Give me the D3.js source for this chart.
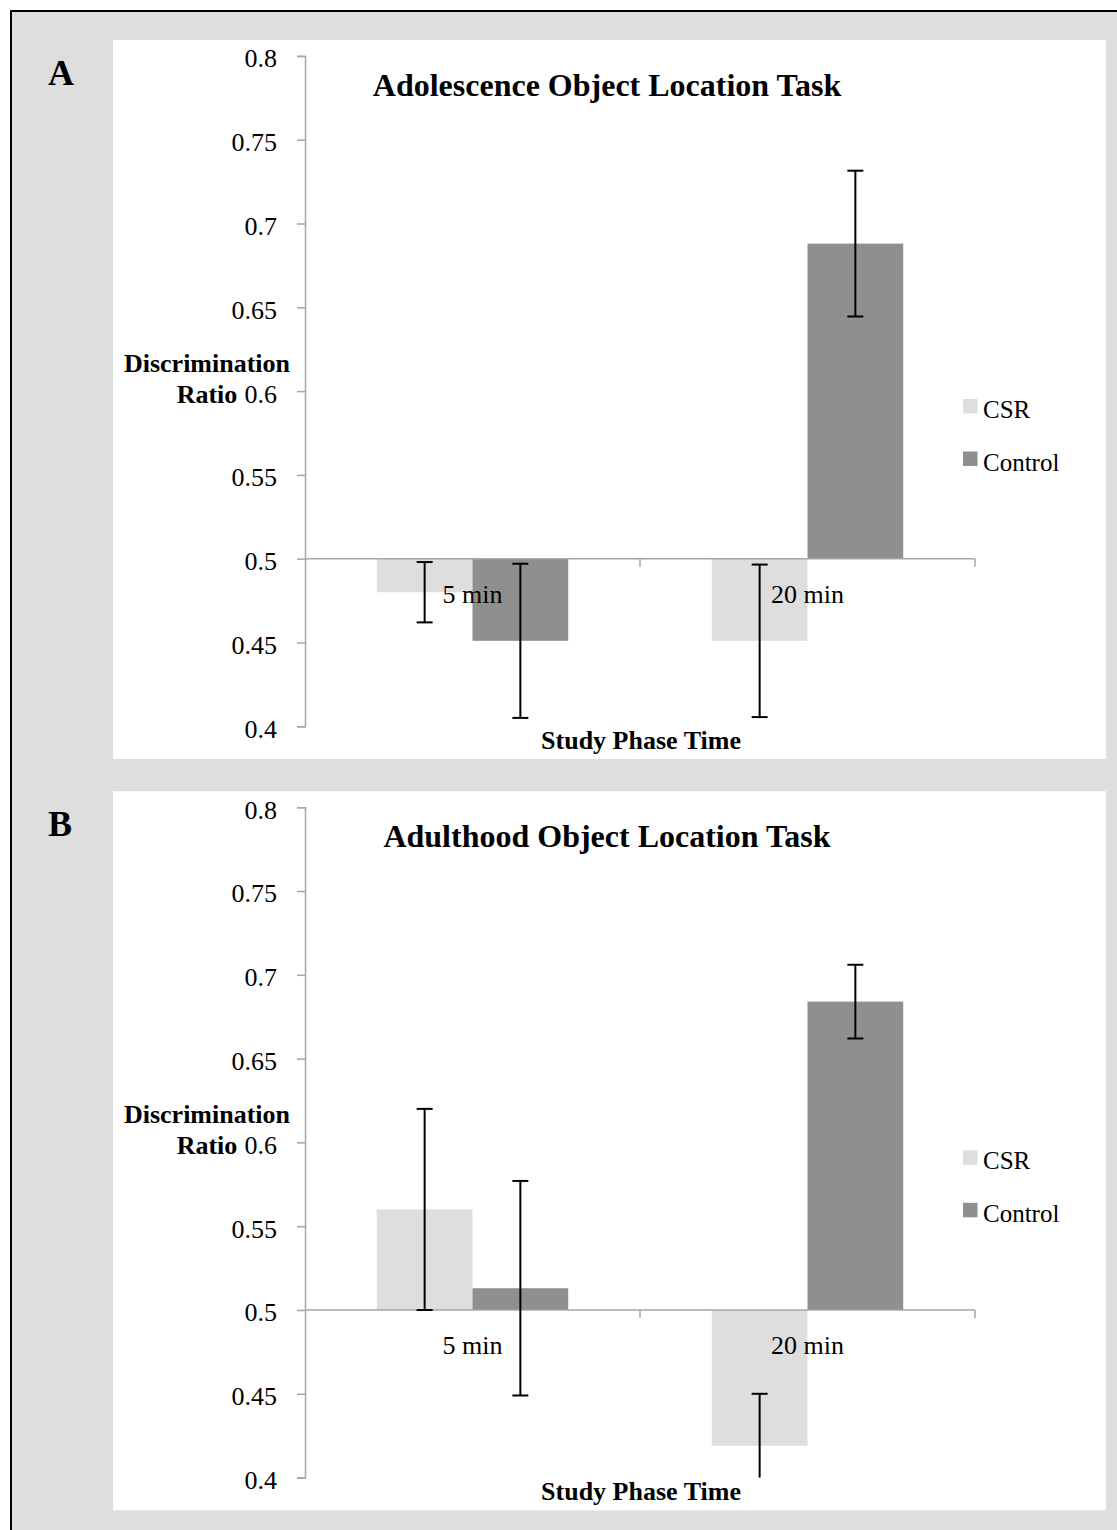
<!DOCTYPE html>
<html>
<head>
<meta charset="utf-8">
<script src="https://cdn.jsdelivr.net/npm/d3@7"></script>
<style>
  html, body { margin: 0; padding: 0; background: #ffffff; }
  svg { display: block; }
  text { font-family: "Liberation Serif", "Times New Roman", serif; fill: #000; }
</style>
</head>
<body>
<svg id="chart" width="1117" height="1530"></svg>
<script>
// ---- data ----
const categories = ["5 min", "20 min"];
const seriesNames = ["CSR", "Control"];
const yTickValues = [0.4, 0.45, 0.5, 0.55, 0.6, 0.65, 0.7, 0.75, 0.8];

const panelLabels = ["A", "B"];
const panelTitles = ["Adolescence Object Location Task", "Adulthood Object Location Task"];

// Panel A (adolescence)
const adolCSR = [0.480, 0.451];
const adolCSRErr = [0.018, 0.0455];
const adolControl = [0.451, 0.688];
const adolControlErr = [0.046, 0.0435];

// Panel B (adulthood)
const adultCSR = [0.560, 0.419];
const adultCSRErr = [0.060, 0.031];
const adultControl = [0.513, 0.684];
const adultControlErr = [0.064, 0.022];

const panels = [
  { label: panelLabels[0], title: panelTitles[0], values: [adolCSR, adolControl], errs: [adolCSRErr, adolControlErr] },
  { label: panelLabels[1], title: panelTitles[1], values: [adultCSR, adultControl], errs: [adultCSRErr, adultControlErr] }
];

const colors = { CSR: "#dedede", Control: "#8f8f8f" };
const baseline = 0.5;

// ---- drawing ----
const svg = d3.select("#chart");

// outer frame
svg.append("rect")
  .attr("x", 11).attr("y", 11)
  .attr("width", 1130).attr("height", 1540)
  .attr("fill", "#dedede")
  .attr("stroke", "#000").attr("stroke-width", 2);

const panelOffset = 751.3;

panels.forEach((p, pi) => {
  const oy = pi * panelOffset;
  const g = svg.append("g").attr("transform", `translate(0,${oy})`);

  // white plot panel
  g.append("rect")
    .attr("x", 113).attr("y", 40)
    .attr("width", 993).attr("height", 719)
    .attr("fill", "#ffffff");

  const y = d3.scaleLinear().domain([0.4, 0.8]).range([726.3, 55.9]);
  const x = d3.scaleBand().domain(categories).range([305, 975]).paddingInner(0).paddingOuter(0);
  const xs = d3.scaleBand().domain(seriesNames).range([0, x.bandwidth()]).paddingInner(0).paddingOuter(0.75);

  // bars
  seriesNames.forEach((s, si) => {
    const vals = p.values[si];
    g.selectAll(null)
      .data(categories.map((c, ci) => ({ c, v: vals[ci] })))
      .enter().append("rect")
      .attr("x", d => x(d.c) + xs(s))
      .attr("width", xs.bandwidth())
      .attr("y", d => y(Math.max(d.v, baseline)))
      .attr("height", d => Math.abs(y(d.v) - y(baseline)))
      .attr("fill", colors[s]);
  });

  // y axis
  const yAxis = d3.axisLeft(y)
    .tickValues(yTickValues)
    .tickFormat(d => String(d))
    .tickSize(8)
    .tickSizeOuter(8)
    .tickPadding(20);
  const ya = g.append("g").attr("transform", "translate(305,0)").call(yAxis);
  ya.select(".domain").attr("stroke", "#a6a6a6").attr("stroke-width", 1.5);
  ya.selectAll(".tick line").attr("stroke", "#a6a6a6").attr("stroke-width", 1.5);
  ya.selectAll(".tick text")
    .attr("font-size", 26)
    .attr("font-family", "Liberation Serif, serif")
    .attr("dy", "0.42em");

  // x axis at baseline 0.5
  const y0 = y(baseline);
  g.append("line")
    .attr("x1", x.range()[0]).attr("x2", x.range()[1])
    .attr("y1", y0).attr("y2", y0)
    .attr("stroke", "#a6a6a6").attr("stroke-width", 1.5);
  g.selectAll(null)
    .data(categories)
    .enter().append("line")
    .attr("x1", d => x(d) + x.bandwidth()).attr("x2", d => x(d) + x.bandwidth())
    .attr("y1", y0).attr("y2", y0 + 8)
    .attr("stroke", "#a6a6a6").attr("stroke-width", 1.5);

  // category labels
  g.selectAll(null)
    .data(categories)
    .enter().append("text")
    .attr("x", d => x(d) + x.bandwidth() / 2)
    .attr("y", y0 + 44)
    .attr("text-anchor", "middle")
    .attr("font-size", 26)
    .text(d => d);

  // error bars
  const [dMin, dMax] = y.domain();
  seriesNames.forEach((s, si) => {
    categories.forEach((c, ci) => {
      const v = p.values[si][ci];
      const e = p.errs[si][ci];
      const cx = x(c) + xs(s) + xs.bandwidth() / 2;
      const hiV = Math.min(v + e, dMax);
      const loV = Math.max(v - e, dMin);
      g.append("line")
        .attr("x1", cx).attr("x2", cx)
        .attr("y1", y(hiV)).attr("y2", y(loV))
        .attr("stroke", "#000").attr("stroke-width", 2);
      if (v + e <= dMax) {
        g.append("line")
          .attr("x1", cx - 8).attr("x2", cx + 8)
          .attr("y1", y(v + e)).attr("y2", y(v + e))
          .attr("stroke", "#000").attr("stroke-width", 2);
      }
      if (v - e >= dMin) {
        g.append("line")
          .attr("x1", cx - 8).attr("x2", cx + 8)
          .attr("y1", y(v - e)).attr("y2", y(v - e))
          .attr("stroke", "#000").attr("stroke-width", 2);
      }
    });
  });

  // title
  g.append("text")
    .attr("x", 607).attr("y", 96)
    .attr("text-anchor", "middle")
    .attr("font-size", 32).attr("font-weight", "bold")
    .text(p.title);

  // panel label
  g.append("text")
    .attr("x", 48).attr("y", 85)
    .attr("font-size", 36).attr("font-weight", "bold")
    .text(p.label);

  // y axis title
  const yt = g.append("text")
    .attr("text-anchor", "middle")
    .attr("font-size", 26).attr("font-weight", "bold");
  yt.append("tspan").attr("x", 207).attr("y", 372).text("Discrimination");
  yt.append("tspan").attr("x", 207).attr("y", 403).text("Ratio");

  // x axis title
  g.append("text")
    .attr("x", 641).attr("y", 749)
    .attr("text-anchor", "middle")
    .attr("font-size", 26).attr("font-weight", "bold")
    .text("Study Phase Time");

  // legend
  const lg = g.append("g");
  seriesNames.forEach((s, si) => {
    const ly = 399 + si * 52.5;
    lg.append("rect")
      .attr("x", 963).attr("y", ly)
      .attr("width", 14.5).attr("height", 14.5)
      .attr("fill", colors[s]);
    lg.append("text")
      .attr("x", 983).attr("y", ly + 19)
      .attr("font-size", 25)
      .text(s);
  });
});
</script>
</body>
</html>
